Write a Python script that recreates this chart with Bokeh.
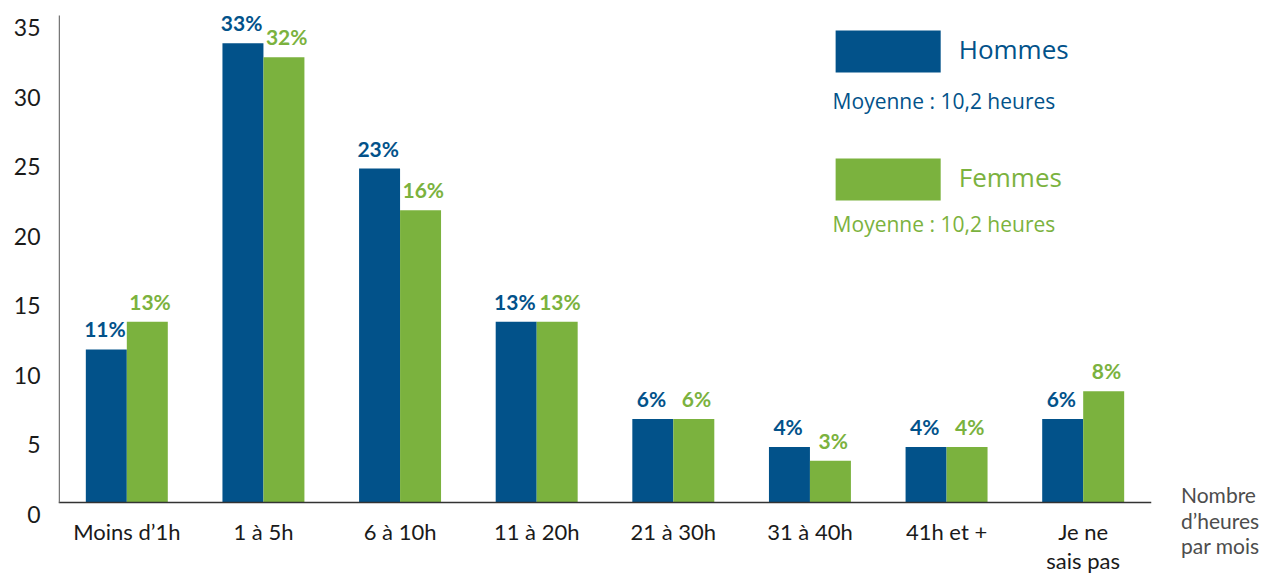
from bokeh.plotting import figure
from bokeh.layouts import row
from bokeh.models import (FactorRange, Range1d, LinearAxis, FixedTicker, Span,
                          BoxAnnotation, Label, ColumnDataSource, Div)
from bokeh.transform import dodge
from bokeh.core.properties import value
from bokeh.embed import file_html
from bokeh.resources import INLINE

categories = ["Moins d’1h", "1 à 5h", "6 à 10h", "11 à 20h", "21 à 30h",
              "31 à 40h", "41h et +", "Je ne\nsais pas"]
hommes = [11, 33, 24, 13, 6, 4, 4, 6]
femmes = [13, 32, 21, 13, 6, 3, 4, 8]
hommes_labels = ["11%", "33%", "23%", "13%", "6%", "4%", "4%", "6%"]
femmes_labels = ["13%", "32%", "16%", "13%", "6%", "3%", "4%", "8%"]
y_ticks = [0, 5, 10, 15, 20, 25, 30, 35]

BLUE = "#02528A"
GREEN = "#7BB23E"
AXIS_FONT = "Lato"
LEG_FONT = "Open Sans"

src = ColumnDataSource(dict(cat=categories, h=hommes, f=femmes,
                            hl=hommes_labels, fl=femmes_labels))

p = figure(x_range=FactorRange(*categories, range_padding=0),
           y_range=Range1d(-1, 35.93),
           frame_width=1093, frame_height=514,
           output_backend="svg", toolbar_location=None,
           min_border_left=58, min_border_right=4, min_border_top=2,
           min_border_bottom=0, y_axis_location=None)

p.vbar(x=dodge("cat", -0.15, range=p.x_range), top="h", width=0.3, bottom=0,
       source=src, fill_color=BLUE, line_color=None)
p.vbar(x=dodge("cat", 0.15, range=p.x_range), top="f", width=0.3, bottom=0,
       source=src, fill_color=GREEN, line_color=None)

p.text(x=dodge("cat", -0.16, range=p.x_range), y="h", text="hl", source=src,
       text_align="center", text_baseline="bottom", y_offset=-8,
       text_font=value(AXIS_FONT), text_font_style="bold",
       text_font_size="21px", text_color=BLUE)
p.text(x=dodge("cat", 0.17, range=p.x_range), y="f", text="fl", source=src,
       text_align="center", text_baseline="bottom", y_offset=-8,
       text_font=value(AXIS_FONT), text_font_style="bold",
       text_font_size="21px", text_color=GREEN)

# y axis, labels sitting slightly below their values (as in the reference)
p.extra_y_ranges = {"lab": Range1d(-0.14, 36.79)}
yax = LinearAxis(y_range_name="lab", ticker=FixedTicker(ticks=y_ticks))
yax.axis_line_color = None
yax.major_tick_line_color = None
yax.minor_tick_line_color = None
yax.major_tick_out = 0
yax.major_tick_in = 0
yax.major_label_standoff = 18
yax.major_label_text_font = AXIS_FONT
yax.major_label_text_font_size = "23px"
yax.major_label_text_color = "#1a1a1a"
p.add_layout(yax, "left")

xax = p.xaxis[0]
xax.axis_line_color = None
xax.major_tick_line_color = None
xax.minor_tick_line_color = None
xax.major_tick_out = 0
xax.major_tick_in = 0
xax.major_label_standoff = 1
xax.major_label_text_font = AXIS_FONT
xax.major_label_text_font_size = "22px"
xax.major_label_text_line_height = 1.1
xax.major_label_text_color = "#1a1a1a"

p.xgrid.visible = False
p.ygrid.visible = False
p.outline_line_color = None

# axis lines
p.add_layout(Span(location=0, dimension="width", line_color="#333333", line_width=1.5))
p.add_layout(BoxAnnotation(left=0, right=0.011, bottom=0, top=35, fill_color="#777777",
                           fill_alpha=1, line_color=None))

# legend
p.add_layout(BoxAnnotation(left=5.688, right=6.457, bottom=30.90, top=33.92,
                           fill_color=BLUE, fill_alpha=1, line_color=None))
p.add_layout(BoxAnnotation(left=5.688, right=6.457, bottom=21.70, top=24.72,
                           fill_color=GREEN, fill_alpha=1, line_color=None))
p.add_layout(Label(x=6.589, y=32.56, text="Hommes", text_baseline="middle",
                   text_font=LEG_FONT, text_font_size="26px", text_color=BLUE))
p.add_layout(Label(x=5.666, y=28.82, text="Moyenne : 10,2 heures", text_baseline="middle",
                   text_font=LEG_FONT, text_font_size="21px", text_color=BLUE))
p.add_layout(Label(x=6.589, y=23.36, text="Femmes", text_baseline="middle",
                   text_font=LEG_FONT, text_font_size="26px", text_color=GREEN))
p.add_layout(Label(x=5.666, y=19.98, text="Moyenne : 10,2 heures", text_baseline="middle",
                   text_font=LEG_FONT, text_font_size="21px", text_color=GREEN))

note = Div(text="Nombre<br>d’heures<br>par mois", width=88, height=80,
           margin=(482, 0, 0, 26),
           styles={"font-family": AXIS_FONT, "font-size": "21px",
                   "color": "#4d4d4d", "line-height": "25.5px"})

layout = row(p, note)
open("out.html", "w").write(file_html(layout, INLINE))
